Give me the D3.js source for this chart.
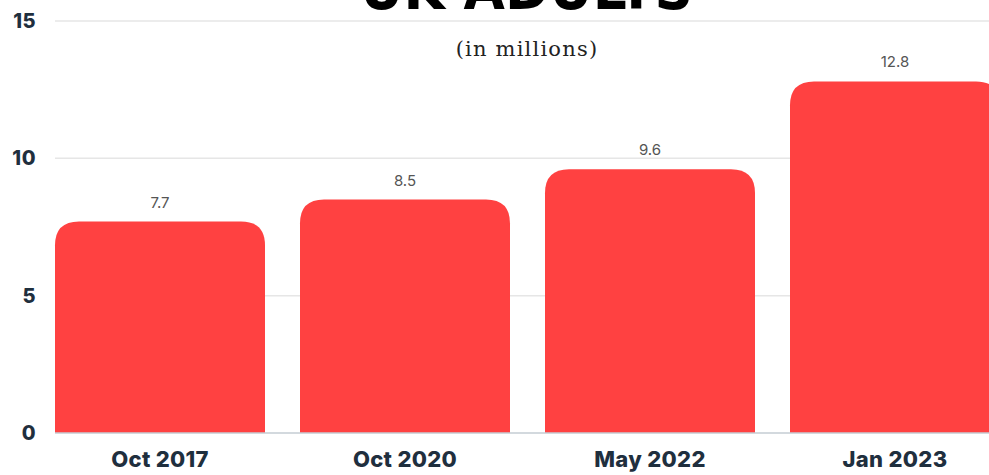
<!DOCTYPE html>
<html>
<head>
<meta charset="utf-8">
<script src="https://cdn.jsdelivr.net/npm/d3@7"></script>
<style>
  html, body { margin: 0; padding: 0; background: #ffffff; overflow: hidden; }
  svg { display: block; }
</style>
</head>
<body>
<svg id="chart" width="989" height="475"></svg>
<script>
// Adults in the UK, in millions
const periods = ["Oct 2017", "Oct 2020", "May 2022", "Jan 2023"];
const adults = [7.7, 8.5, 9.6, 12.8];
const yTicks = [0, 5, 10, 15];
const titleText = "UK ADULTS";
const subtitleText = "(in millions)";

const width = 989, height = 475;
const svg = d3.select("#chart");

const x = d3.scaleBand()
  .domain(periods)
  .range([37.5, 1017.5])
  .paddingInner(35 / 245)
  .paddingOuter(17.5 / 245);

const y = d3.scaleLinear().domain([0, 15]).range([433, 21]);

// Title (runs off the top edge)
svg.append("text")
  .attr("x", 360).attr("y", 9)
  .attr("textLength", 333)
  .attr("lengthAdjust", "spacingAndGlyphs")
  .attr("font-family", "DejaVu Sans")
  .attr("font-weight", 900)
  .attr("font-size", 58)
  .attr("fill", "#000")
  .text(titleText);

// Grid lines
svg.append("g")
  .selectAll("line")
  .data(yTicks.filter(d => d > 0))
  .join("line")
  .attr("x1", 55).attr("x2", width)
  .attr("y1", d => y(d)).attr("y2", d => y(d))
  .attr("stroke", "#e6e6e6")
  .attr("stroke-width", 1.5);

// Subtitle
svg.append("text")
  .attr("x", 527).attr("y", 56)
  .attr("text-anchor", "middle")
  .attr("font-family", "DejaVu Serif")
  .attr("font-size", 21)
  .attr("letter-spacing", 1.2)
  .attr("fill", "#222")
  .text(subtitleText);

// Y axis labels
const yAxis = d3.axisLeft(y).tickValues(yTicks).tickSize(0).tickPadding(0);
const gy = svg.append("g").attr("transform", "translate(36,0)").call(yAxis);
gy.select(".domain").remove();
gy.selectAll("text")
  .attr("font-family", "Inter")
  .attr("font-weight", 800)
  .attr("font-size", 20)
  .attr("letter-spacing", 0.5)
  .attr("fill", "#1f2f3e");

// Bars with rounded top corners
const r = 24;
function barPath(d, i) {
  const x0 = x(periods[i]), w = x.bandwidth();
  const y0 = y(d), yb = y(0);
  return `M${x0},${yb}V${y0 + r}Q${x0},${y0} ${x0 + r},${y0}H${x0 + w - r}Q${x0 + w},${y0} ${x0 + w},${y0 + r}V${yb}Z`;
}
svg.append("g")
  .selectAll("path")
  .data(adults)
  .join("path")
  .attr("d", barPath)
  .attr("fill", "#ff4141");

// Baseline
svg.append("line")
  .attr("x1", 55).attr("x2", width)
  .attr("y1", y(0)).attr("y2", y(0))
  .attr("stroke", "#c4ccd3")
  .attr("stroke-width", 1.5);

// Value labels
svg.append("g")
  .selectAll("text")
  .data(adults)
  .join("text")
  .attr("x", (d, i) => x(periods[i]) + x.bandwidth() / 2)
  .attr("y", d => y(d) - 14)
  .attr("text-anchor", "middle")
  .attr("font-family", "Inter")
  .attr("font-size", 15)
  .attr("fill", "#555")
  .text(d => d.toFixed(1));

// X axis labels
const xAxis = d3.axisBottom(x).tickSize(0).tickPadding(0);
const gx = svg.append("g").attr("transform", `translate(0,${y(0) + 34})`).call(xAxis);
gx.select(".domain").remove();
gx.selectAll("text")
  .attr("dy", 0)
  .attr("font-family", "Inter")
  .attr("font-weight", 800)
  .attr("font-size", 22)
  .attr("letter-spacing", 0.3)
  .attr("fill", "#1f2f3e");
</script>
</body>
</html>
